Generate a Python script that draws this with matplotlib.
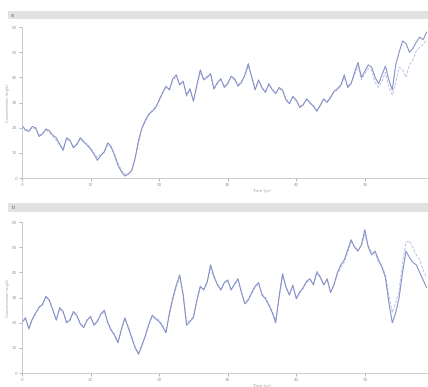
import matplotlib
matplotlib.use("Agg")
import matplotlib.pyplot as plt
from matplotlib.patches import Rectangle

# time axis (years, half-year steps) and tick positions
years = [i * 0.5 for i in range(119)]
xticks = [0, 10, 20, 30, 40, 50]
yticks = [0, 10, 20, 30, 40, 50, 60]

# panel a: observed and model
a_obs = [21.0, 19.0, 18.5, 20.5, 20.0, 16.5, 17.5, 19.5, 18.8, 17.0,
         16.0, 13.5, 11.0, 16.0, 15.0, 12.0, 13.5, 16.0, 14.5, 13.0,
         11.5, 9.5, 7.0, 9.0, 10.5, 14.0, 12.5, 9.0, 5.0, 2.5,
         0.8, 1.5, 3.0, 8.0, 15.0, 20.0, 23.0, 25.5, 26.5, 28.0,
         31.0, 34.0, 36.5, 35.0, 39.5, 41.0, 37.0, 38.5, 33.0, 35.5,
         30.5, 37.0, 43.0, 39.0, 40.0, 41.5, 35.5, 38.0, 39.5, 36.0,
         37.5, 40.5, 39.5, 36.5, 38.0, 41.0, 45.5, 40.0, 35.0, 39.0,
         36.0, 34.0, 37.5, 35.0, 33.5, 36.0, 35.0, 31.0, 29.5, 32.5,
         31.0, 28.0, 29.0, 31.5, 30.0, 28.5, 26.5, 29.0, 31.5, 30.0,
         32.0, 34.5, 35.5, 37.0, 41.0, 36.0, 37.5, 42.0, 46.0, 40.0,
         42.5, 45.0, 44.0, 40.0, 37.5, 41.0, 44.5, 39.0, 35.0, 45.0,
         50.0, 54.5, 53.5, 50.0, 51.5, 54.0, 56.0, 55.0, 58.0]
a_mod = [20.5, 19.5, 19.0, 20.0, 19.5, 17.0, 18.0, 19.0, 18.0, 16.5,
         15.0, 13.0, 12.0, 15.5, 14.5, 12.5, 13.0, 15.5, 14.0, 13.5,
         12.0, 10.0, 8.0, 9.5, 10.0, 13.0, 12.0, 9.5, 6.0, 3.0,
         1.5, 1.8, 2.5, 7.5, 14.0, 19.5, 22.5, 25.0, 27.0, 28.5,
         30.5, 33.5, 36.0, 35.5, 39.0, 40.0, 37.5, 38.0, 32.5, 35.0,
         31.0, 36.0, 42.0, 39.5, 40.5, 41.0, 35.0, 37.5, 39.0, 36.5,
         38.0, 40.0, 39.0, 37.0, 38.5, 40.5, 44.5, 40.5, 35.5, 38.5,
         35.5, 34.5, 37.0, 35.5, 34.0, 35.5, 34.5, 31.5, 30.0, 32.0,
         30.5, 28.5, 29.5, 31.0, 29.5, 29.0, 27.0, 28.5, 31.0, 30.5,
         32.5, 34.0, 35.0, 36.5, 40.0, 36.5, 38.0, 41.0, 44.5, 39.0,
         41.5, 43.5, 43.0, 38.0, 36.0, 38.5, 42.0, 36.0, 33.0, 38.0,
         44.0, 43.0, 40.0, 45.0, 47.0, 50.5, 52.0, 53.0, 55.0]

# panel b: observed and model
b_obs = [20.0, 22.0, 17.5, 21.5, 24.0, 26.0, 27.5, 30.5, 29.0, 25.0,
         21.0, 26.0, 24.5, 20.0, 21.0, 24.5, 23.0, 19.5, 18.0, 21.0,
         22.5, 19.0, 20.5, 23.5, 25.0, 20.0, 17.0, 15.0, 12.0, 17.5,
         22.0, 18.0, 14.0, 10.0, 7.5, 11.0, 15.0, 19.5, 23.0, 21.5,
         20.5, 18.5, 16.0, 24.0, 30.0, 35.0, 39.0, 31.0, 19.0, 20.5,
         22.0, 29.0, 34.5, 33.0, 36.0, 43.0, 38.5, 35.0, 33.0, 36.0,
         37.0, 33.0, 35.5, 37.5, 32.0, 27.5, 29.0, 32.0, 34.5, 36.0,
         31.0, 29.5, 27.0, 24.0, 20.0, 30.5, 39.5, 34.0, 31.0, 35.0,
         29.5, 32.0, 34.0, 36.5, 37.5, 35.0, 40.0, 38.0, 35.0, 37.5,
         32.0, 35.0, 40.0, 43.0, 45.0, 49.0, 53.0, 50.0, 48.5, 51.0,
         57.0, 50.0, 47.0, 48.5, 45.0, 42.0, 38.0, 28.0, 20.0, 24.0,
         30.0, 40.0, 48.5, 46.0, 44.0, 43.0, 40.0, 37.0, 34.0]
b_mod = [20.5, 21.5, 18.0, 21.0, 23.5, 26.5, 27.0, 30.0, 28.5, 25.5,
         21.5, 25.5, 24.0, 20.5, 21.5, 24.0, 22.5, 20.0, 18.5, 21.5,
         22.0, 19.5, 21.0, 23.0, 24.5, 20.5, 17.5, 15.5, 12.5, 17.0,
         21.5, 18.5, 14.5, 10.5, 8.0, 11.5, 14.5, 19.0, 22.5, 22.0,
         21.0, 19.0, 16.5, 23.0, 29.0, 34.0, 38.0, 32.0, 20.0, 21.0,
         22.5, 28.5, 34.0, 33.5, 36.5, 41.5, 38.0, 35.5, 33.5, 35.5,
         36.5, 33.5, 35.0, 37.0, 32.5, 28.0, 29.5, 31.5, 34.0, 35.5,
         31.5, 30.0, 27.5, 24.5, 21.0, 30.0, 38.5, 34.5, 31.5, 34.5,
         30.0, 32.5, 33.5, 36.0, 37.0, 35.5, 40.5, 38.5, 35.5, 37.0,
         32.5, 35.5, 39.0, 42.0, 44.0, 48.0, 52.0, 50.5, 49.0, 50.5,
         55.0, 50.5, 48.0, 47.5, 44.0, 42.5, 39.0, 31.0, 24.0, 28.0,
         33.0, 44.0, 52.0, 52.5, 50.0, 47.0, 45.0, 41.0, 38.0]

fig = plt.figure(figsize=(4.28, 3.87), dpi=100)

panels = [("a", a_obs, a_mod, 0.540, 0.950), ("b", b_obs, b_mod, 0.036, 0.453)]
for label, obs, mod, bottom, bar_y in panels:
    # grey header strip
    fig.patches.append(Rectangle((8 / 428, bar_y), 1.0, 0.022, transform=fig.transFigure,
                                 facecolor="#e2e2e2", edgecolor="none"))
    fig.text(11 / 428, bar_y + 0.011, label, fontsize=3.5, va="center", color="#666666")

    ax = fig.add_axes([22 / 428, bottom, 480 / 428, 0.390])
    ax.plot(years, mod, color="#b4bbe0", lw=0.6, ls="--")
    ax.plot(years, obs, color="#7d88c2", lw=0.7)
    ax.set_xlim(0, 70)
    ax.set_ylim(0, 60)
    ax.set_xticks(xticks)
    ax.set_yticks(yticks)
    ax.tick_params(labelsize=3, length=2, width=0.5, colors="#999999", pad=1.5)
    for s in ["top", "right"]:
        ax.spines[s].set_visible(False)
    for s in ["left", "bottom"]:
        ax.spines[s].set_color("#c4c4c4")
        ax.spines[s].set_linewidth(0.6)
    ax.set_xlabel("Time (yr)", fontsize=3, color="#999999", labelpad=1.5)
    ax.set_ylabel("Concentration (mg/L)", fontsize=2.5, color="#999999", labelpad=1.5)

fig.savefig("out.png", dpi=100)
